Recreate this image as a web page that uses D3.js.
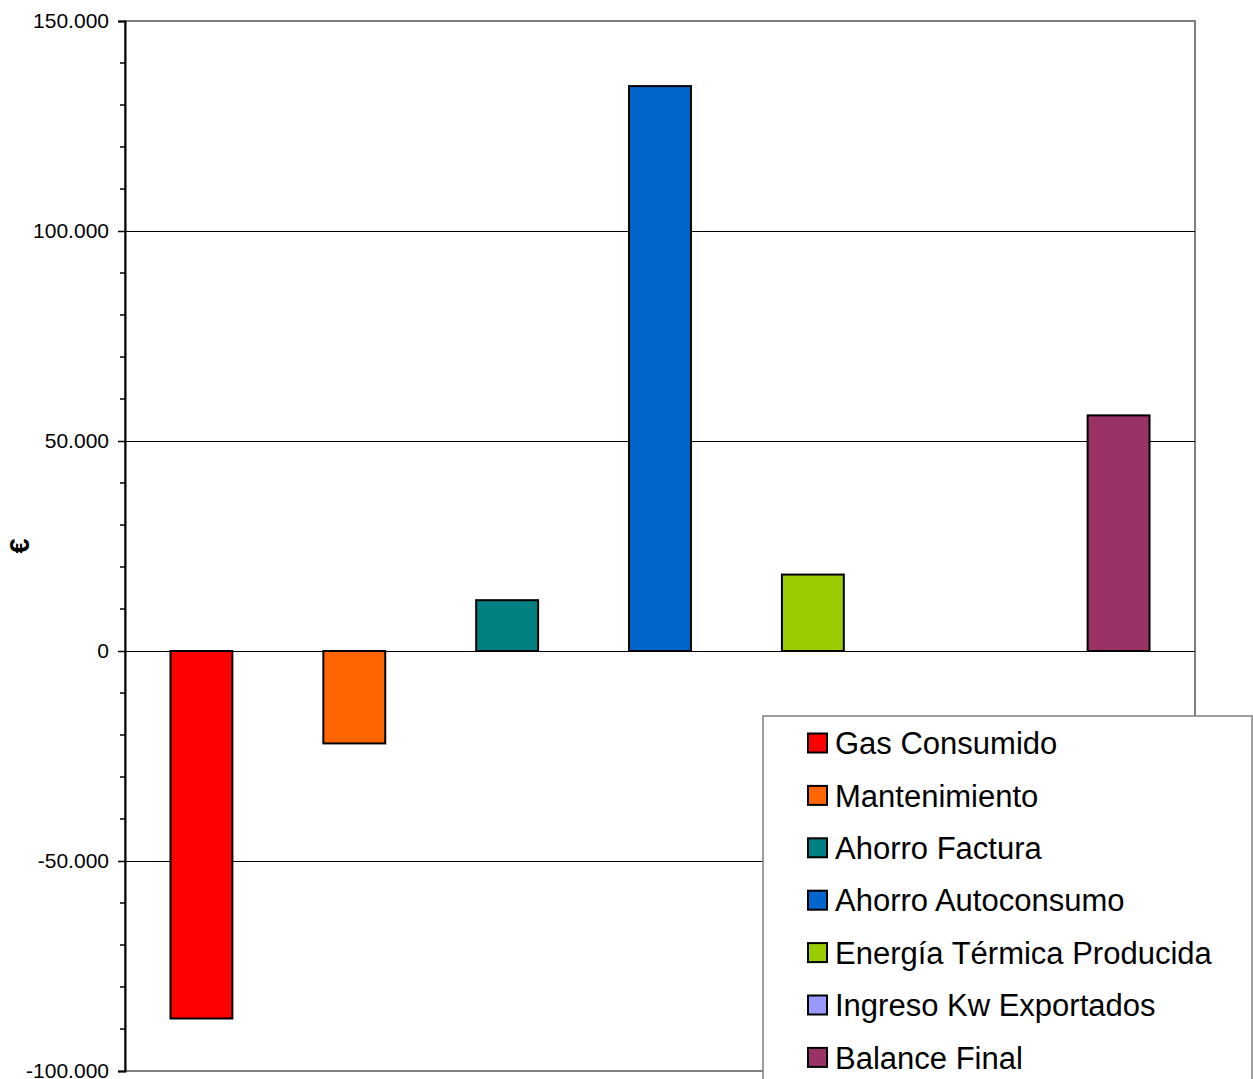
<!DOCTYPE html>
<html><head><meta charset="utf-8">
<script src="https://cdn.jsdelivr.net/npm/d3@7"></script>
<style>html,body{margin:0;padding:0;background:#fff;overflow:hidden}</style>
</head><body>
<script>
const series = ["Gas Consumido","Mantenimiento","Ahorro Factura","Ahorro Autoconsumo","Energía Térmica Producida","Ingreso Kw Exportados","Balance Final"];
const values = [-87500, -22000, 12100, 134500, 18200, 0, 56100];
const colors = ["#FF0000","#FF6600","#008080","#0066CC","#99CC00","#9999FF","#993366"];
const majorTicks = [150000, 100000, 50000, 0, -50000, -100000];
const tickLabels = ["150.000","100.000","50.000","0","-50.000","-100.000"];

(function(){
const W = 1253, H = 1079;
const pL = 125, pR = 1195, pT = 21, pB = 1071;
const svg = d3.select("body").append("svg").attr("width", W).attr("height", H);

const y = d3.scaleLinear().domain([-100000, 150000]).range([pB, pT]);
const x = d3.scaleBand().domain(series).range([pL, pR]).paddingInner(0.595).paddingOuter(0.2975);

// plot border
svg.append("rect").attr("x", pL).attr("y", pT).attr("width", pR-pL).attr("height", pB-pT)
  .attr("fill", "#fff").attr("stroke", "#808080").attr("stroke-width", 2);

// gridlines
svg.append("g").selectAll("line").data(majorTicks.filter(d => d < 150000 && d > -100000)).join("line")
  .attr("x1", pL).attr("x2", pR).attr("y1", d => y(d)).attr("y2", d => y(d))
  .attr("stroke", "#000").attr("stroke-width", 1).attr("shape-rendering", "crispEdges");

// bars
svg.append("g").selectAll("rect").data(series.map((s,i)=>({s, v: values[i], c: colors[i]})).filter(d => d.v !== 0)).join("rect")
  .attr("x", d => x(d.s)).attr("width", x.bandwidth())
  .attr("y", d => y(Math.max(0, d.v))).attr("height", d => Math.abs(y(d.v) - y(0)))
  .attr("fill", d => d.c).attr("stroke", "#000").attr("stroke-width", 2);

// y axis
const axis = d3.axisLeft(y).tickValues(majorTicks).tickSize(7).tickPadding(9)
  .tickFormat((d,i) => tickLabels[i]);
const ga = svg.append("g").attr("transform", `translate(${pL},0)`).call(axis);
ga.select(".domain").attr("stroke", "#000").attr("stroke-width", 2);
ga.selectAll(".tick line").attr("stroke", "#000").attr("stroke-width", 1.5);
ga.selectAll("text").attr("font-family", "Liberation Sans, Arial, sans-serif").attr("font-size", 21).attr("fill", "#000");
// minor ticks
const minor = d3.range(-100000, 150001, 10000).filter(d => majorTicks.indexOf(d) < 0);
ga.append("g").selectAll("line").data(minor).join("line")
  .attr("x1", -5).attr("x2", 0).attr("y1", d => y(d)).attr("y2", d => y(d))
  .attr("stroke", "#000").attr("stroke-width", 1.5);

// y label
svg.append("text").attr("transform", `translate(29,546) rotate(-90)`)
  .attr("text-anchor", "middle").attr("font-family", "Liberation Sans, Arial, sans-serif")
  .attr("font-size", 27).attr("font-weight", "bold").text("€");

// legend
const lg = svg.append("g");
lg.append("rect").attr("x", 763).attr("y", 716).attr("width", 489).attr("height", 400)
  .attr("fill", "#fff").attr("stroke", "#808080").attr("stroke-width", 1.5);
const items = lg.selectAll("g.item").data(series).join("g").attr("class", "item")
  .attr("transform", (d,i) => `translate(0,${743 + i*52.4})`);
items.append("rect").attr("x", 808).attr("y", -9.5).attr("width", 19).attr("height", 19)
  .attr("fill", (d,i) => colors[i]).attr("stroke", "#000").attr("stroke-width", 2);
items.append("text").attr("x", 835).attr("y", 0).attr("dy", "0.36em")
  .attr("font-family", "Liberation Sans, Arial, sans-serif").attr("font-size", 31).attr("fill", "#000")
  .text(d => d);
})();
</script>
</body></html>
